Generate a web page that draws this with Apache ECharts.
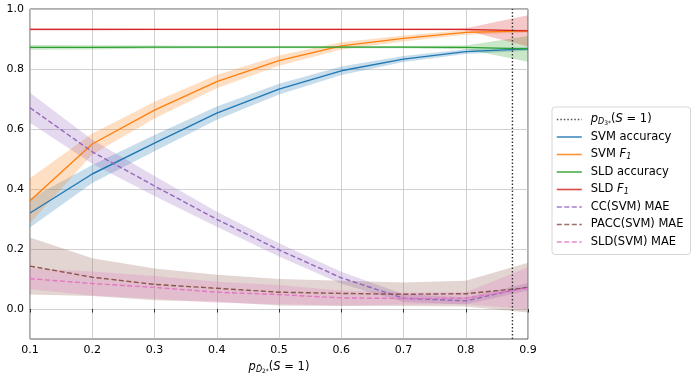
<!DOCTYPE html>
<html>
<head>
<meta charset="utf-8">
<script src="https://cdn.jsdelivr.net/npm/echarts@6/dist/echarts.min.js"></script>
<style>
html, body { margin: 0; padding: 0; background: #fff; }
#chart { width: 697px; height: 379px; }
</style>
</head>
<body>
<div id="chart"></div>
<script>
// x positions (prevalence of the test set)
const xValues = [0.1, 0.2, 0.3, 0.4, 0.5, 0.6, 0.7, 0.8, 0.9];
const yLabelValues = [0.0, 0.2, 0.4, 0.6, 0.8, 1.0];
const trainPrev = 0.875;

// mean and std of each curve
const svmAcc = [0.320, 0.450, 0.553, 0.653, 0.733, 0.794, 0.833, 0.858, 0.867];
const svmAccStd = [0.048, 0.030, 0.027, 0.022, 0.018, 0.014, 0.010, 0.008, 0.006];
const svmF1 = [0.361, 0.550, 0.663, 0.758, 0.828, 0.877, 0.902, 0.922, 0.927];
const svmF1Std = [0.075, 0.035, 0.028, 0.022, 0.017, 0.012, 0.010, 0.008, 0.005];
const sldAcc = [0.872, 0.872, 0.873, 0.873, 0.873, 0.873, 0.873, 0.872, 0.867];
const sldAccStd = [0.008, 0.007, 0.005, 0.004, 0.004, 0.004, 0.004, 0.006, 0.043];
const sldF1 = [0.932, 0.932, 0.932, 0.932, 0.932, 0.932, 0.932, 0.932, 0.927];
const sldF1Std = [0.004, 0.004, 0.003, 0.003, 0.003, 0.003, 0.003, 0.004, 0.052];
const ccMae = [0.671, 0.524, 0.410, 0.299, 0.197, 0.104, 0.036, 0.027, 0.074];
const ccMaeStd = [0.050, 0.040, 0.033, 0.025, 0.022, 0.020, 0.013, 0.012, 0.013];
const paccMae = [0.143, 0.106, 0.082, 0.069, 0.056, 0.052, 0.049, 0.051, 0.071];
const paccMaeStd = [0.095, 0.063, 0.053, 0.045, 0.044, 0.042, 0.039, 0.043, 0.083];
const sldMae = [0.101, 0.085, 0.072, 0.056, 0.048, 0.037, 0.035, 0.036, 0.069];
const sldMaeStd = [0.035, 0.040, 0.038, 0.035, 0.032, 0.025, 0.020, 0.020, 0.070];

const yMin = -0.1;
const yMax = 1.0;

const chart = echarts.init(document.getElementById('chart'));

function pairs(vals) {
    return xValues.map((x, i) => [x, vals[i]]);
}

// shaded band (mean +- std) as one polygon through the axes
function band(mean, std, color) {
    return {
        type: 'custom', silent: true, z: 1, clip: true,
        data: [[xValues[0], mean[0]]],
        renderItem: (params, api) => {
            const upper = xValues.map((x, i) => api.coord([x, mean[i] + std[i]]));
            const lower = xValues.map((x, i) => api.coord([x, mean[i] - std[i]])).reverse();
            return {
                type: 'polygon',
                shape: { points: upper.concat(lower) },
                style: { fill: color, opacity: 0.25 },
            };
        },
    };
}

function curve(name, mean, color, dashed) {
    return {
        name: name, type: 'line', symbol: 'none', z: 3,
        lineStyle: { color: color, width: 1.4, type: dashed ? [5, 2.5] : 'solid' },
        itemStyle: { color: color },
        data: pairs(mean),
    };
}

const legendText = {
    'prev': '{it|p}{sub|D}{ss|3*}{n|(}{it|S}{n| = 1)}',
    'SVM accuracy': '{n|SVM accuracy}',
    'SVM F1': '{n|SVM }{it|F}{sub|1}',
    'SLD accuracy': '{n|SLD accuracy}',
    'SLD F1': '{n|SLD }{it|F}{sub|1}',
    'CC(SVM) MAE': '{n|CC(SVM) MAE}',
    'PACC(SVM) MAE': '{n|PACC(SVM) MAE}',
    'SLD(SVM) MAE': '{n|SLD(SVM) MAE}',
};

const richStyles = {
    n: { fontSize: 11.5, lineHeight: 13, fontFamily: 'DejaVu Sans', color: '#000' },
    it: { fontSize: 11.5, lineHeight: 13, fontFamily: 'DejaVu Sans', fontStyle: 'italic', color: '#000' },
    sub: { fontSize: 8, lineHeight: 13, fontFamily: 'DejaVu Sans', fontStyle: 'italic', color: '#000', verticalAlign: 'bottom', padding: [4, 0, 0, 0] },
    ss: { fontSize: 6, lineHeight: 13, fontFamily: 'DejaVu Sans', color: '#000', verticalAlign: 'bottom', padding: [6, 0, 0, 0] },
};

const series = [
    {
        name: 'prev', type: 'line', symbol: 'none', z: 4,
        lineStyle: { color: '#333', width: 1.4, type: [1.5, 2] },
        itemStyle: { color: '#333' },
        data: [[trainPrev, yMin], [trainPrev, yMax]],
    },
    curve('SVM accuracy', svmAcc, '#1f77b4'), band(svmAcc, svmAccStd, '#1f77b4'),
    curve('SVM F1', svmF1, '#ff7f0e'), band(svmF1, svmF1Std, '#ff7f0e'),
    curve('SLD accuracy', sldAcc, '#2ca02c'), band(sldAcc, sldAccStd, '#2ca02c'),
    curve('SLD F1', sldF1, '#d62728'), band(sldF1, sldF1Std, '#d62728'),
    curve('CC(SVM) MAE', ccMae, '#9467bd', true), band(ccMae, ccMaeStd, '#9467bd'),
    curve('PACC(SVM) MAE', paccMae, '#8c564b', true), band(paccMae, paccMaeStd, '#8c564b'),
    curve('SLD(SVM) MAE', sldMae, '#e377c2', true), band(sldMae, sldMaeStd, '#e377c2'),
];

const option = {
    animation: false,
    textStyle: { fontFamily: 'DejaVu Sans' },
    grid: {
        left: 30, top: 9, right: 169, bottom: 40,
        show: true, borderColor: '#333', borderWidth: 0.8,
    },
    legend: {
        orient: 'vertical',
        left: 552, top: 107,
        data: Object.keys(legendText),
        itemWidth: 25, itemHeight: 13, itemGap: 4.5,
        padding: [6, 7, 6, 4],
        borderColor: '#d6d6d6', borderWidth: 1, borderRadius: 3,
        selectedMode: false,
        itemStyle: { opacity: 0 },
        lineStyle: { width: 1.6, opacity: 0.85 },
        formatter: name => legendText[name],
        textStyle: { fontSize: 11.5, lineHeight: 13, color: '#000', padding: [0, 0, 0, 4], rich: richStyles },
    },
    xAxis: {
        type: 'value', min: 0.1, max: 0.9, interval: 0.1,
        name: '{it|p}{sub|D̃}{ss|2*}{n|(}{it|S}{n| = 1)}',
        nameLocation: 'middle', nameGap: 22,
        nameTextStyle: { rich: richStyles },
        axisLine: { show: false },
        axisTick: { show: true, length: 3.5, lineStyle: { color: '#333' } },
        axisLabel: { fontSize: 11, color: '#000', margin: 6, formatter: v => v.toFixed(1) },
        splitLine: { show: true, lineStyle: { color: '#c4c4c4', width: 0.8 } },
    },
    yAxis: {
        type: 'value', min: yMin, max: yMax, interval: 0.1,
        axisLine: { show: false },
        axisTick: { show: false },
        axisLabel: {
            fontSize: 11, color: '#000', margin: 6,
            formatter: v => yLabelValues.some(t => Math.abs(t - v) < 1e-6) ? v.toFixed(1) : '',
        },
        splitLine: { show: true, lineStyle: { color: ['rgba(0,0,0,0)', '#c4c4c4'], width: 0.8 } },
    },
    series: series,
};

chart.setOption(option);
</script>
</body>
</html>
